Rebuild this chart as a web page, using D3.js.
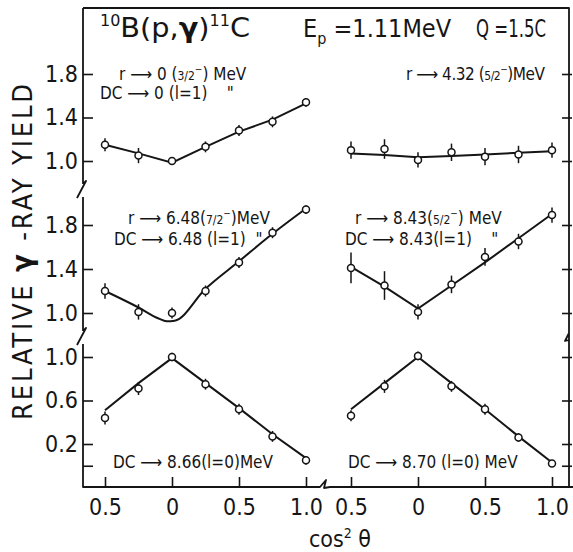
<!DOCTYPE html>
<html>
<head>
  <meta charset="utf-8">
  <title>10B(p,gamma)11C angular distributions</title>
  <style>
    body { margin: 0; background: #fff; }
    svg text { font-family: "DejaVu Sans Condensed", "Liberation Sans Narrow", sans-serif; fill: #151515; white-space: pre; }
  </style>
</head>
<body>
<script src="https://d3js.org/d3.v7.min.js"></script>
<script>
// cos^2 theta ; negative half = left part of each panel
var angles = [-0.5, -0.25, 0, 0.25, 0.5, 0.75, 1.0];
var xTickValues = [-0.5, 0, 0.5, 1.0];
var xTickLabels = ["0.5", "0", "0.5", "1.0"];

var yTicksUpper  = [1.0, 1.4, 1.8];
var yLabelsUpper = ["1.0", "1.4", "1.8"];
var yTicksLower  = [0.0, 0.2, 0.6, 1.0];
var yLabelsLower = ["", "0.2", "0.6", "1.0"];

// r -> 0 (3/2-), DC -> 0 (l=1)
var yieldA = [1.15, 1.05, 1.00, 1.13, 1.28, 1.36, 1.54];
var errA   = [0.06, 0.07, 0.03, 0.05, 0.05, 0.05, 0.04];
var fitA   = [1.15, 1.07, 0.985, 1.13, 1.27, 1.38, 1.53];

// r -> 4.32 (5/2-)
var yieldB = [1.10, 1.11, 1.01, 1.08, 1.04, 1.06, 1.10];
var errB   = [0.08, 0.09, 0.07, 0.08, 0.08, 0.08, 0.07];
var fitB   = [1.07, 1.055, 1.035, 1.045, 1.06, 1.075, 1.09];

// r -> 6.48 (7/2-), DC -> 6.48 (l=1)
var yieldC = [1.20, 1.01, 1.00, 1.20, 1.46, 1.73, 1.94];
var errC   = [0.07, 0.07, 0.05, 0.05, 0.05, 0.05, 0.04];
var fitAnglesC = [-0.5, -0.25, -0.1, -0.04, 0.02, 0.25, 0.5, 0.75, 1.0];
var fitC   = [1.20, 1.05, 0.95, 0.925, 0.93, 1.22, 1.47, 1.72, 1.95];

// r -> 8.43 (5/2-), DC -> 8.43 (l=1)
var yieldD = [1.41, 1.25, 1.01, 1.26, 1.51, 1.65, 1.89];
var errD   = [0.14, 0.13, 0.07, 0.08, 0.08, 0.07, 0.07];
var fitD   = [1.42, 1.24, 1.04, 1.25, 1.46, 1.68, 1.90];

// DC -> 8.66 (l=0)
var yieldE = [0.44, 0.71, 1.00, 0.75, 0.52, 0.27, 0.05];
var errE   = [0.06, 0.06, 0.04, 0.05, 0.05, 0.05, 0.04];
var fitE   = [0.51, 0.76, 0.99, 0.76, 0.53, 0.29, 0.07];

// DC -> 8.70 (l=0)
var yieldF = [0.46, 0.73, 1.01, 0.73, 0.52, 0.26, 0.02];
var errF   = [0.05, 0.06, 0.04, 0.05, 0.05, 0.04, 0.03];
var fitF   = [0.52, 0.76, 1.00, 0.76, 0.52, 0.27, 0.03];

var width = 573, height = 552;
var frame = {left: 83, right: 569, top: 8, bottom: 487};

var svg = d3.select("body").append("svg")
    .attr("width", width)
    .attr("height", height);

var xs = [
  d3.scaleLinear().domain([-0.5, 1.0]).range([105, 306]),
  d3.scaleLinear().domain([-0.5, 1.0]).range([351, 552])
];

var rows = [
  {y: d3.scaleLinear().domain([1.0, 1.8]).range([161, 74]),  ticks: yTicksUpper, labels: yLabelsUpper},
  {y: d3.scaleLinear().domain([1.0, 1.8]).range([313, 225]), ticks: yTicksUpper, labels: yLabelsUpper},
  {y: d3.scaleLinear().domain([0.2, 1.0]).range([444, 357]), ticks: yTicksLower, labels: yLabelsLower}
];

var panels = [
  {row: 0, col: 0, v: yieldA, e: errA, fx: angles, f: fitA},
  {row: 0, col: 1, v: yieldB, e: errB, fx: angles, f: fitB},
  {row: 1, col: 0, v: yieldC, e: errC, fx: fitAnglesC, f: fitC},
  {row: 1, col: 1, v: yieldD, e: errD, fx: angles, f: fitD},
  {row: 2, col: 0, v: yieldE, e: errE, fx: angles, f: fitE},
  {row: 2, col: 1, v: yieldF, e: errF, fx: angles, f: fitF}
];

var ink = "#151515";

// frame with break marks
var framePath = [
  "M" + frame.left + "," + frame.top + "H" + frame.right + "V" + frame.bottom,
  "M" + frame.left + "," + frame.top + "V184",
  "M83,184l3,-3l-9,17",
  "M83,197V331",
  "M83,331l3,-3l-9,17",
  "M83,344V" + frame.bottom + "H320",
  "l6,-7l-2,8l6,-1",
  "H" + width,
  "M569,333l-4,8l4,-1"
].join("");

svg.append("path")
   .attr("d", framePath)
   .attr("fill", "none")
   .attr("stroke", ink)
   .attr("stroke-width", 1.8)
   .attr("stroke-linejoin", "round");

// y axes, left with labels, right plain ticks
rows.forEach(function(r){
  svg.append("g")
     .attr("transform", "translate(" + frame.left + ",0)")
     .call(d3.axisLeft(r.y).tickValues(r.ticks).tickSizeInner(-10).tickSizeOuter(0).tickPadding(5)
           .tickFormat(function(d, i){ return r.labels[i]; }))
     .call(function(g){
        g.select(".domain").remove();
        g.selectAll("line").attr("stroke", ink).attr("stroke-width", 1.6);
        g.selectAll("text").attr("font-size", 23).attr("font-family", null).attr("fill", ink);
     });

  svg.append("g")
     .attr("transform", "translate(" + (frame.right + 3) + ",0)")
     .call(d3.axisRight(r.y).tickValues(r.ticks).tickSizeInner(-10).tickSizeOuter(0).tickFormat(""))
     .call(function(g){
        g.select(".domain").remove();
        g.selectAll("line").attr("stroke", ink).attr("stroke-width", 1.6);
     });
});

// x axes
xs.forEach(function(x){
  svg.append("g")
     .attr("transform", "translate(0," + frame.bottom + ")")
     .call(d3.axisBottom(x).tickValues(xTickValues).tickSizeInner(-10).tickSizeOuter(0).tickPadding(12)
           .tickFormat(function(d, i){ return xTickLabels[i]; }))
     .call(function(g){
        g.select(".domain").remove();
        g.selectAll("line").attr("stroke", ink).attr("stroke-width", 1.6);
        g.selectAll("text").attr("font-size", 23).attr("font-family", null).attr("fill", ink);
     });
});

// data
panels.forEach(function(p){
  var x = xs[p.col], y = rows[p.row].y;
  var g = svg.append("g");

  var line = d3.line()
      .x(function(d){ return x(d[0]); })
      .y(function(d){ return y(d[1]); })
      .curve(p.fx === fitAnglesC ? d3.curveMonotoneX : d3.curveLinear);

  g.append("path")
   .datum(d3.zip(p.fx, p.f))
   .attr("d", line)
   .attr("fill", "none")
   .attr("stroke", ink)
   .attr("stroke-width", 2);

  var pts = d3.zip(angles, p.v, p.e);

  g.selectAll(".err")
   .data(pts)
   .enter().append("line")
   .attr("x1", function(d){ return x(d[0]); })
   .attr("x2", function(d){ return x(d[0]); })
   .attr("y1", function(d){ return y(d[1] - d[2]); })
   .attr("y2", function(d){ return y(d[1] + d[2]); })
   .attr("stroke", ink)
   .attr("stroke-width", 1.5);

  g.selectAll(".pt")
   .data(pts)
   .enter().append("circle")
   .attr("cx", function(d){ return x(d[0]); })
   .attr("cy", function(d){ return y(d[1]); })
   .attr("r", 3.5)
   .attr("fill", "#fff")
   .attr("stroke", ink)
   .attr("stroke-width", 1.5);
});

// text helper: parts = [text, size, dy, weight]
function label(x, y, size, parts, anchor){
  var t = svg.append("text")
      .attr("x", x).attr("y", y)
      .attr("font-size", size)
      .attr("text-anchor", anchor || "start");
  parts.forEach(function(p){
    var s = t.append("tspan").text(p[0]);
    if (p[1]) s.attr("font-size", p[1]);
    if (p[2]) s.attr("dy", p[2]);
    if (p[3]) s.attr("font-weight", p[3]);
  });
  return t;
}

var arrow = " \u27F6 ";

// title
label(100, 37, 27, [["10", 15, -11], ["B(p,", null, 11], ["\u03B3", null, 0, "bold"], [")"], ["11", 15, -11], ["C", null, 11]])
  .attr("textLength", 150)
  .attr("lengthAdjust", "spacingAndGlyphs");
label(303, 37, 25, [["E"], ["p", 16, 7], [" =1.11MeV", null, -7]]);
label(476, 37, 25, [["Q =1.5C"]])
  .attr("textLength", 70)
  .attr("lengthAdjust", "spacingAndGlyphs");

// panel notes
var frac = function(n){ return [["("], [n, 12], ["\u2212", 10, -7], [")", null, 7]]; };

label(119, 80, 17, [["r" + arrow + "0 "]].concat(frac("3/2"), [[" MeV"]]));
label(100, 99, 17, [["DC" + arrow + "0 (l=1)    \""]]);
label(406, 80, 17, [["r" + arrow + "4.32 "]].concat(frac("5/2"), [["MeV"]])).attr("textLength", 139);
label(128, 224, 17, [["r" + arrow + "6.48"]].concat(frac("7/2"), [["MeV"]]));
label(114, 245, 17, [["DC" + arrow + "6.48 (l=1)  \""]]);
label(355, 224, 17, [["r" + arrow + "8.43"]].concat(frac("5/2"), [[" MeV"]]));
label(345, 245, 17, [["DC" + arrow + "8.43(l=1)    \""]]);
label(113, 468, 17, [["DC" + arrow + "8.66(l=0)MeV"]]);
label(348, 468, 17, [["DC" + arrow + "8.70 (l=0) MeV"]]);

// axis titles
label(0, 0, 27, [["RELATIVE "], ["\u03B3", 29, 0, "bold"], [" -RAY YIELD"]], "middle")
  .attr("textLength", 336)
  .attr("lengthAdjust", "spacing")
  .attr("transform", "translate(32,252) rotate(-90)");

label(340, 547, 23, [["cos"], ["2", 14, -9], [" \u03B8", null, 9]], "middle");
</script>
</body>
</html>
